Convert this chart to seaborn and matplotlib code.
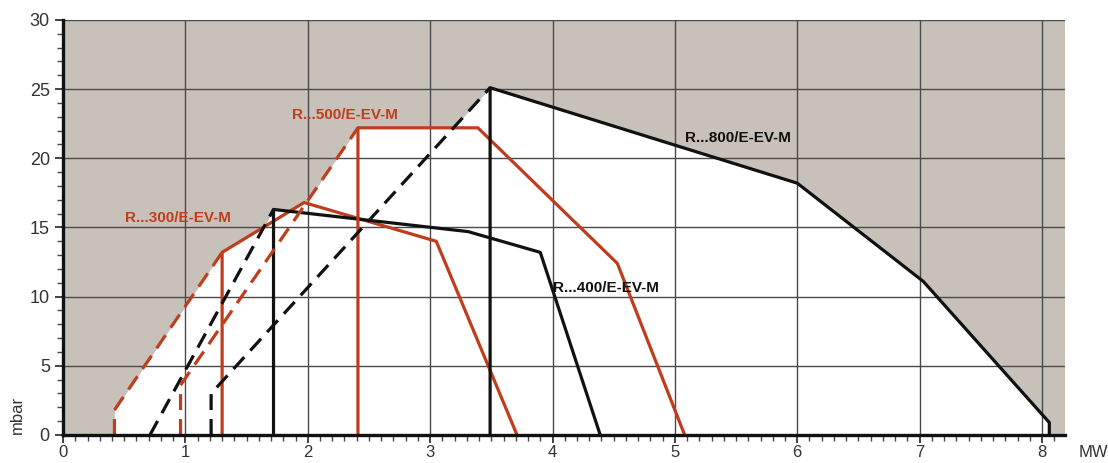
import numpy as np
import pandas as pd
import seaborn as sns
import matplotlib.pyplot as plt
from matplotlib.ticker import MultipleLocator

# working fields (MW, mbar)
# each burner: dashed start-up branch, solid main outline
models = ["R...300/E-EV-M", "R...400/E-EV-M", "R...500/E-EV-M", "R...800/E-EV-M"]
dash_x = {
    "R...300/E-EV-M": [0.42, 0.42, 1.30],
    "R...400/E-EV-M": [0.71, 1.72],
    "R...500/E-EV-M": [0.96, 0.96, 2.41],
    "R...800/E-EV-M": [1.21, 1.21, 3.49],
}
dash_y = {
    "R...300/E-EV-M": [0, 1.8, 13.2],
    "R...400/E-EV-M": [0, 16.3],
    "R...500/E-EV-M": [0, 3.6, 22.2],
    "R...800/E-EV-M": [0, 3.0, 25.1],
}
solid_x = {
    "R...300/E-EV-M": [1.30, 1.30, 1.97, 3.05, 3.71],
    "R...400/E-EV-M": [1.72, 1.72, 3.31, 3.90, 4.39],
    "R...500/E-EV-M": [2.41, 2.41, 3.39, 4.53, 5.08],
    "R...800/E-EV-M": [3.49, 3.49, 6.00, 7.03, 8.06, 8.06],
}
solid_y = {
    "R...300/E-EV-M": [0, 13.2, 16.8, 14.0, 0],
    "R...400/E-EV-M": [0, 16.3, 14.7, 13.2, 0],
    "R...500/E-EV-M": [0, 22.2, 22.2, 12.4, 0],
    "R...800/E-EV-M": [0, 25.1, 18.2, 11.1, 0.9, 0],
}
colors = {
    "R...300/E-EV-M": "#bf3d1c",
    "R...400/E-EV-M": "#111111",
    "R...500/E-EV-M": "#bf3d1c",
    "R...800/E-EV-M": "#111111",
}
label_pos = {
    "R...300/E-EV-M": (0.51, 15.7),
    "R...400/E-EV-M": (4.0, 10.6),
    "R...500/E-EV-M": (1.87, 23.1),
    "R...800/E-EV-M": (5.08, 21.5),
}

fig = plt.figure(figsize=(11.08, 4.63), dpi=100)
ax = fig.add_axes([0.0569, 0.0605, 0.9045, 0.8965])
ax.set_facecolor("#c8c1ba")

# white area = upper envelope of all working fields
xg = np.linspace(0, 8.2, 4100)
env = np.zeros_like(xg)
for m in models:
    ox = dash_x[m] + solid_x[m][1:]
    oy = dash_y[m] + solid_y[m][1:]
    env = np.maximum(env, np.interp(xg, ox, oy, left=0, right=0))
ax.fill_between(xg, 0, env, color="white", lw=0, zorder=1)

for m in models:
    d = pd.DataFrame({"x": dash_x[m], "y": dash_y[m]})
    s = pd.DataFrame({"x": solid_x[m], "y": solid_y[m]})
    sns.lineplot(data=d, x="x", y="y", sort=False, estimator=None, ax=ax,
                 color=colors[m], lw=2.3, linestyle=(0, (5, 2.8)), zorder=4)
    sns.lineplot(data=s, x="x", y="y", sort=False, estimator=None, ax=ax,
                 color=colors[m], lw=2.3, zorder=4)
    lx, ly = label_pos[m]
    ax.text(lx, ly, m, color=colors[m], fontsize=11, fontweight="bold",
            family="Liberation Sans", va="center", ha="left", zorder=5)

ax.set_xlim(0, 8.19)
ax.set_ylim(0, 30)
ax.xaxis.set_major_locator(MultipleLocator(1))
ax.xaxis.set_minor_locator(MultipleLocator(0.1))
ax.yaxis.set_major_locator(MultipleLocator(5))
ax.yaxis.set_minor_locator(MultipleLocator(1))
ax.grid(True, which="major", color="#4a4a4a", lw=1.0, zorder=2)
ax.set_axisbelow(False)
for gl in ax.get_ygridlines()[-1:]:
    gl.set_visible(False)

for side in ["top", "right"]:
    ax.spines[side].set_visible(False)
for side in ["left", "bottom"]:
    ax.spines[side].set_linewidth(2.4)
    ax.spines[side].set_color("#111111")
    ax.spines[side].set_zorder(6)

ax.tick_params(axis="both", which="major", length=6, width=1.2, color="#222222",
               labelsize=13, labelcolor="#333333")
ax.tick_params(axis="x", which="major", labelsize=12, pad=1)
ax.tick_params(axis="both", which="minor", length=4, width=1.0, color="#444444")
for lab in ax.get_xticklabels() + ax.get_yticklabels():
    lab.set_family("Liberation Sans")
ax.set_xlabel("")
ax.set_ylabel("")
ax.text(-0.37, 0.1, "mbar", rotation=90, fontsize=12, color="#333333",
        family="Liberation Sans", ha="center", va="bottom", clip_on=False)
ax.text(8.3, -1.3, "MW", fontsize=12, color="#333333",
        family="Liberation Sans", ha="left", va="center", clip_on=False)

fig.savefig("out.png", dpi=100)
